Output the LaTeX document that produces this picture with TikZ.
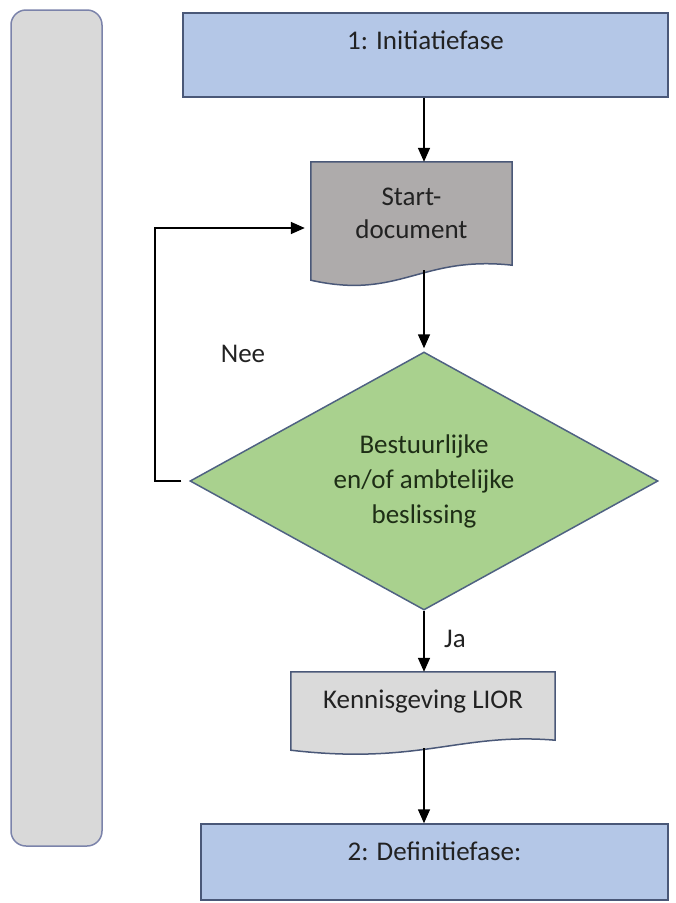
\documentclass[tikz,border=0pt]{standalone}
\usepackage{fontspec}
\setmainfont{Carlito}
\usetikzlibrary{shapes.geometric,arrows.meta,calc}
\definecolor{phaseblue}{HTML}{B4C7E7}
\definecolor{phaseline}{HTML}{4A5878}
\definecolor{barfill}{HTML}{D9D9D9}
\definecolor{barline}{HTML}{7B83AA}
\definecolor{docgray}{HTML}{AEABAB}
\definecolor{notegray}{HTML}{DADADA}
\definecolor{decgreen}{HTML}{A9D18E}
\definecolor{decline}{HTML}{4F6282}
\definecolor{dectext}{HTML}{1E2E16}
\definecolor{textdark}{HTML}{222222}
\pgfdeclarelayer{background}
\pgfsetlayers{background,main}

\begin{document}
\begin{tikzpicture}[x=1pt,y=-1pt,
  font=\fontsize{27}{33}\selectfont, text=textdark,
  phase/.style={draw=phaseline,fill=phaseblue,line width=1.5pt,inner ysep=0pt,text height=36pt,text depth=48pt},
  docnode/.style={inner ysep=0pt,align=center},
  docline/.style={draw=phaseline,line width=1.5pt},
  decision/.style={diamond,aspect=1.8,draw=decline,fill=decgreen,line width=1.5pt,inner sep=0pt,align=center,
    minimum width=468pt,minimum height=258pt,text=dectext,font=\fontsize{27}{35}\selectfont},
  arr/.style={line width=1.6pt,-{Triangle[length=14pt,width=12pt]}}]
\useasboundingbox (0,0) rectangle (676,903);

% side bar
\draw[barline,fill=barfill,line width=1.5pt,rounded corners=15pt] (11,10) rectangle (102,846);

% phases
\node[phase,minimum width=485pt] (init) at (425.5,55) {1: Initiatiefase};
\node[phase,minimum width=467pt,text height=36pt,text depth=40pt] (def) at (434.5,862) {2: Definitiefase:};

% documents
\node[docnode,minimum width=201pt,minimum height=103pt] (startdoc) at (411.5,213.5) {Start-\\document};
\node[docnode,minimum width=264pt,text height=36pt,text depth=32pt] (kenn) at (423,706) {Kennisgeving LIOR};
\begin{pgfonlayer}{background}
\filldraw[docline,fill=docgray] (startdoc.north west) -- (startdoc.north east) -- (startdoc.south east)
  .. controls +(-92,-10) and +(89,20) .. ($(startdoc.south west)+(0,15)$) -- cycle;
\filldraw[docline,fill=notegray] (kenn.north west) -- (kenn.north east) -- (kenn.south east)
  .. controls +(-95,-8) and +(129,15) .. ($(kenn.south west)+(0,10)$) -- cycle;
\end{pgfonlayer}

% decision
\node[decision] (dec) at (424,481) {Bestuurlijke\\en/of ambtelijke\\beslissing};
\node (nee) at (243,354) {Nee};
\node (ja) at (455,639) {Ja};

% arrows
\draw[arr] (init.south -| dec.north) -- (startdoc.north -| dec.north);
\draw[arr,shorten >=3pt] ($(startdoc.south -| dec.north)+(0,5)$) -- (dec.north);
\draw[arr] (dec.south) -- (kenn.north -| dec.south);
\draw[arr] ($(kenn.south -| dec.south)+(0,8)$) -- (def.north -| dec.south);
\draw[arr,shorten <=8pt,shorten >=6pt] (dec.west) -- ++(-34,0) |- ($(startdoc.west)+(0,14.5)$);
\end{tikzpicture}
\end{document}
